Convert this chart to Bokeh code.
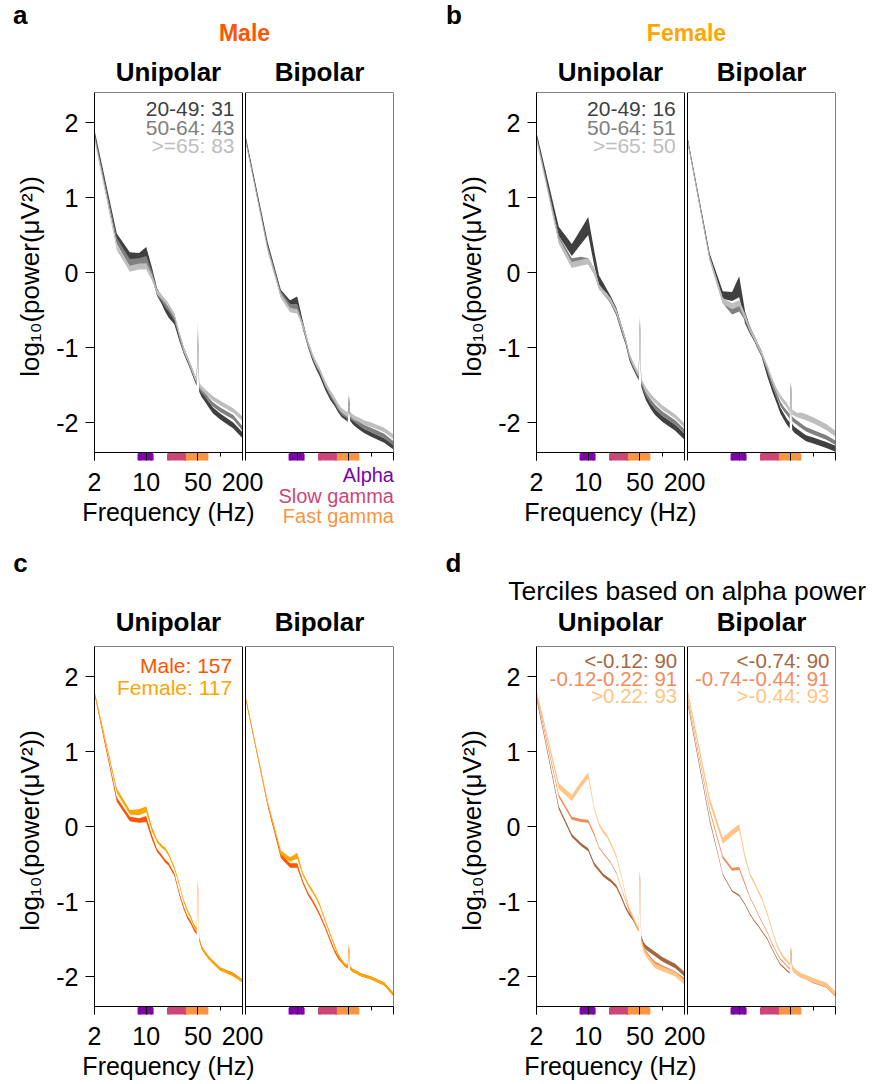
from bokeh.plotting import figure
from bokeh.models import Range1d, FixedTicker, Label, BoxAnnotation, CustomJSTickFormatter, Spacer, Div
from bokeh.layouts import column, row
from bokeh.core.properties import value
from bokeh.embed import file_html
from bokeh.resources import INLINE

# ---------------- data ----------------
FREQ = [2, 4, 6, 8, 10, 12, 14, 16, 18, 20, 24, 28, 32, 36, 40, 44, 48, 50, 52, 56, 60, 70, 80, 100, 150, 200]

BAND_NAMES = ["Alpha", "Slow gamma", "Fast gamma"]
BAND_LO = [8, 20, 36]
BAND_HI = [12, 34, 66]
BAND_COLORS = ["#7E03A8", "#CC4778", "#F89540"]

X_TICKS = [2, 10, 50, 200]
X_MINOR = [100]
Y_TICKS = [-2, -1, 0, 1, 2]

AGE_LABELS = ["20-49", "50-64", ">=65"]
AGE_COLORS = ["#404040", "#808080", "#BEBEBE"]
MALE_AGE_N = [31, 43, 83]
FEMALE_AGE_N = [16, 51, 50]

SEX_LABELS = ["Male", "Female"]
SEX_COLORS = ["#FF5500", "#FFA500"]
SEX_N = [157, 117]

TERC_UNI_LABELS = ["<-0.12", "-0.12-0.22", ">0.22"]
TERC_BIP_LABELS = ["<-0.74", "-0.74--0.44", ">-0.44"]
TERC_COLORS = ["#A5673F", "#F08C5C", "#FFC585"]
TERC_N = [90, 91, 93]

# panel a: male, by age
MALE_UNI_2049 = [1.86, 0.47, 0.21, 0.20, 0.27, 0.00, -0.26, -0.36, -0.46, -0.54, -0.64, -0.86, -1.04, -1.16, -1.27, -1.38, -1.47, -0.90, -1.55, -1.62, -1.66, -1.76, -1.84, -1.92, -2.04, -2.17]
MALE_UNI_5064 = [1.83, 0.42, 0.13, 0.14, 0.17, -0.04, -0.26, -0.34, -0.42, -0.48, -0.60, -0.84, -1.03, -1.15, -1.26, -1.37, -1.46, -0.80, -1.53, -1.58, -1.61, -1.70, -1.76, -1.83, -1.93, -2.08]
MALE_UNI_65 = [1.79, 0.33, 0.05, 0.08, 0.08, -0.07, -0.26, -0.32, -0.38, -0.44, -0.57, -0.82, -1.02, -1.14, -1.25, -1.36, -1.45, -0.70, -1.50, -1.54, -1.57, -1.63, -1.68, -1.74, -1.84, -1.95]
MALE_BIP_2049 = [1.80, 0.36, -0.27, -0.42, -0.38, -0.71, -0.96, -1.13, -1.25, -1.34, -1.53, -1.66, -1.75, -1.84, -1.90, -1.93, -1.96, -1.70, -1.95, -1.99, -2.02, -2.07, -2.11, -2.16, -2.24, -2.33]
MALE_BIP_5064 = [1.78, 0.33, -0.29, -0.46, -0.46, -0.72, -0.95, -1.11, -1.23, -1.31, -1.50, -1.63, -1.72, -1.81, -1.87, -1.90, -1.93, -1.70, -1.92, -1.95, -1.97, -2.02, -2.06, -2.10, -2.18, -2.28]
MALE_BIP_65 = [1.76, 0.30, -0.31, -0.50, -0.52, -0.72, -0.94, -1.10, -1.21, -1.29, -1.48, -1.60, -1.69, -1.78, -1.84, -1.87, -1.90, -1.66, -1.89, -1.92, -1.94, -1.97, -2.00, -2.03, -2.10, -2.19]
MALE_UNI_SEM_2049 = [0.04, 0.05, 0.06, 0.06, 0.07, 0.06, 0.05, 0.05, 0.06, 0.06, 0.05, 0.05, 0.04, 0.04, 0.04, 0.04, 0.04, 0.06, 0.04, 0.04, 0.04, 0.04, 0.04, 0.04, 0.04, 0.04]
MALE_UNI_SEM_5064 = [0.03, 0.04, 0.05, 0.05, 0.05, 0.05, 0.04, 0.04, 0.04, 0.04, 0.04, 0.04, 0.04, 0.03, 0.03, 0.03, 0.03, 0.06, 0.03, 0.03, 0.03, 0.03, 0.03, 0.03, 0.03, 0.03]
MALE_UNI_SEM_65 = [0.03, 0.03, 0.04, 0.04, 0.04, 0.04, 0.03, 0.03, 0.03, 0.03, 0.03, 0.03, 0.03, 0.03, 0.03, 0.03, 0.03, 0.06, 0.03, 0.03, 0.03, 0.03, 0.03, 0.03, 0.03, 0.03]
MALE_BIP_SEM_2049 = [0.03, 0.04, 0.04, 0.05, 0.06, 0.05, 0.04, 0.04, 0.04, 0.04, 0.04, 0.04, 0.03, 0.03, 0.03, 0.03, 0.03, 0.05, 0.03, 0.03, 0.03, 0.03, 0.03, 0.03, 0.03, 0.03]
MALE_BIP_SEM_5064 = [0.03, 0.03, 0.04, 0.04, 0.04, 0.04, 0.03, 0.03, 0.03, 0.03, 0.03, 0.03, 0.03, 0.03, 0.03, 0.03, 0.03, 0.05, 0.03, 0.03, 0.03, 0.03, 0.03, 0.03, 0.03, 0.03]
MALE_BIP_SEM_65 = [0.02, 0.03, 0.03, 0.03, 0.03, 0.03, 0.03, 0.03, 0.03, 0.03, 0.03, 0.03, 0.03, 0.03, 0.03, 0.03, 0.03, 0.05, 0.03, 0.03, 0.03, 0.03, 0.03, 0.03, 0.03, 0.03]

# panel b: female, by age
FEMALE_UNI_2049 = [1.83, 0.55, 0.30, 0.48, 0.62, 0.20, -0.10, -0.19, -0.28, -0.36, -0.52, -0.74, -0.92, -1.13, -1.24, -1.32, -1.40, -0.70, -1.48, -1.58, -1.66, -1.78, -1.86, -1.95, -2.07, -2.19]
FEMALE_UNI_5064 = [1.81, 0.45, 0.15, 0.17, 0.15, 0.02, -0.19, -0.26, -0.32, -0.38, -0.54, -0.74, -0.92, -1.12, -1.23, -1.31, -1.38, -0.66, -1.46, -1.55, -1.62, -1.72, -1.79, -1.88, -2.00, -2.12]
FEMALE_UNI_65 = [1.78, 0.42, 0.10, 0.13, 0.15, 0.02, -0.19, -0.26, -0.31, -0.37, -0.52, -0.72, -0.90, -1.10, -1.21, -1.29, -1.36, -0.62, -1.44, -1.50, -1.56, -1.65, -1.71, -1.80, -1.92, -2.04]
FEMALE_BIP_2049 = [1.78, 0.21, -0.30, -0.32, -0.19, -0.60, -0.77, -0.88, -0.99, -1.08, -1.35, -1.55, -1.70, -1.84, -1.92, -1.99, -2.04, -1.52, -2.06, -2.10, -2.12, -2.17, -2.21, -2.24, -2.30, -2.35]
FEMALE_BIP_5064 = [1.77, 0.19, -0.37, -0.52, -0.48, -0.60, -0.77, -0.88, -0.99, -1.08, -1.30, -1.49, -1.63, -1.75, -1.82, -1.87, -1.92, -1.52, -1.95, -1.98, -2.00, -2.05, -2.09, -2.13, -2.20, -2.27]
FEMALE_BIP_65 = [1.76, 0.18, -0.38, -0.45, -0.41, -0.59, -0.76, -0.87, -0.98, -1.07, -1.26, -1.44, -1.57, -1.66, -1.72, -1.77, -1.84, -1.52, -1.86, -1.88, -1.90, -1.91, -1.93, -1.97, -2.06, -2.15]
FEMALE_UNI_SEM_2049 = [0.04, 0.06, 0.08, 0.10, 0.12, 0.10, 0.06, 0.05, 0.05, 0.05, 0.05, 0.05, 0.04, 0.04, 0.04, 0.04, 0.04, 0.06, 0.04, 0.04, 0.04, 0.04, 0.04, 0.04, 0.04, 0.04]
FEMALE_UNI_SEM_5064 = [0.03, 0.04, 0.04, 0.04, 0.04, 0.04, 0.03, 0.03, 0.03, 0.03, 0.03, 0.03, 0.03, 0.03, 0.03, 0.03, 0.03, 0.06, 0.03, 0.03, 0.03, 0.03, 0.03, 0.03, 0.03, 0.03]
FEMALE_UNI_SEM_65 = [0.03, 0.04, 0.04, 0.04, 0.04, 0.04, 0.03, 0.03, 0.03, 0.03, 0.03, 0.03, 0.03, 0.03, 0.03, 0.03, 0.03, 0.06, 0.03, 0.03, 0.03, 0.03, 0.03, 0.03, 0.03, 0.03]
FEMALE_BIP_SEM_2049 = [0.03, 0.04, 0.05, 0.06, 0.14, 0.08, 0.05, 0.04, 0.04, 0.04, 0.04, 0.04, 0.04, 0.04, 0.04, 0.04, 0.04, 0.06, 0.04, 0.04, 0.04, 0.04, 0.04, 0.04, 0.04, 0.04]
FEMALE_BIP_SEM_5064 = [0.03, 0.03, 0.04, 0.04, 0.04, 0.04, 0.03, 0.03, 0.03, 0.03, 0.03, 0.03, 0.03, 0.03, 0.03, 0.03, 0.03, 0.05, 0.03, 0.03, 0.03, 0.03, 0.03, 0.03, 0.03, 0.03]
FEMALE_BIP_SEM_65 = [0.03, 0.03, 0.04, 0.04, 0.04, 0.04, 0.03, 0.03, 0.03, 0.03, 0.03, 0.03, 0.03, 0.03, 0.03, 0.03, 0.03, 0.05, 0.03, 0.03, 0.03, 0.04, 0.04, 0.04, 0.04, 0.04]

# panel c: male vs female
SEX_UNI_MALE = [1.78, 0.36, 0.10, 0.08, 0.10, -0.15, -0.32, -0.39, -0.46, -0.50, -0.64, -0.90, -1.08, -1.21, -1.28, -1.37, -1.42, -0.80, -1.50, -1.61, -1.66, -1.75, -1.81, -1.90, -1.97, -2.06]
SEX_UNI_FEMALE = [1.79, 0.48, 0.19, 0.19, 0.23, -0.04, -0.19, -0.26, -0.30, -0.37, -0.55, -0.77, -0.99, -1.12, -1.21, -1.32, -1.37, -0.75, -1.50, -1.61, -1.66, -1.75, -1.81, -1.90, -1.98, -2.06]
SEX_BIP_MALE = [1.72, 0.28, -0.39, -0.52, -0.52, -0.75, -0.90, -0.99, -1.08, -1.17, -1.35, -1.52, -1.66, -1.75, -1.80, -1.85, -1.87, -1.61, -1.89, -1.92, -1.93, -1.97, -1.99, -2.02, -2.10, -2.24]
SEX_BIP_FEMALE = [1.72, 0.32, -0.35, -0.44, -0.39, -0.64, -0.77, -0.86, -0.95, -1.04, -1.26, -1.44, -1.59, -1.72, -1.79, -1.84, -1.86, -1.61, -1.88, -1.92, -1.93, -1.97, -1.99, -2.02, -2.10, -2.24]
SEX_UNI_SEM_MALE = [0.02, 0.03, 0.03, 0.03, 0.04, 0.03, 0.02, 0.02, 0.02, 0.02, 0.02, 0.02, 0.02, 0.02, 0.02, 0.02, 0.02, 0.05, 0.02, 0.02, 0.02, 0.02, 0.02, 0.02, 0.02, 0.02]
SEX_UNI_SEM_FEMALE = [0.02, 0.03, 0.03, 0.04, 0.04, 0.03, 0.02, 0.02, 0.02, 0.02, 0.02, 0.02, 0.02, 0.02, 0.02, 0.02, 0.02, 0.05, 0.02, 0.02, 0.02, 0.02, 0.02, 0.02, 0.02, 0.02]
SEX_BIP_SEM_MALE = [0.02, 0.02, 0.03, 0.03, 0.03, 0.02, 0.02, 0.02, 0.02, 0.02, 0.02, 0.02, 0.02, 0.02, 0.02, 0.02, 0.02, 0.04, 0.02, 0.02, 0.02, 0.02, 0.02, 0.02, 0.02, 0.02]
SEX_BIP_SEM_FEMALE = [0.02, 0.02, 0.03, 0.03, 0.04, 0.02, 0.02, 0.02, 0.02, 0.02, 0.02, 0.02, 0.02, 0.02, 0.02, 0.02, 0.02, 0.04, 0.02, 0.02, 0.02, 0.02, 0.02, 0.02, 0.02, 0.02]

# panel d: terciles of alpha power
TERC_UNI_LOW = [1.72, 0.25, -0.12, -0.24, -0.31, -0.50, -0.58, -0.65, -0.69, -0.72, -0.80, -0.94, -1.08, -1.17, -1.23, -1.31, -1.38, -0.64, -1.48, -1.57, -1.61, -1.66, -1.70, -1.77, -1.86, -1.97]
TERC_UNI_MID = [1.76, 0.41, 0.11, 0.08, 0.07, -0.10, -0.28, -0.36, -0.42, -0.48, -0.62, -0.82, -0.99, -1.12, -1.21, -1.30, -1.38, -0.64, -1.50, -1.61, -1.67, -1.76, -1.82, -1.87, -1.95, -2.04]
TERC_UNI_HIGH = [1.80, 0.54, 0.38, 0.56, 0.68, 0.25, 0.03, -0.07, -0.13, -0.22, -0.40, -0.66, -0.92, -1.10, -1.20, -1.29, -1.38, -0.64, -1.53, -1.64, -1.70, -1.79, -1.86, -1.90, -1.97, -2.08]
TERC_BIP_LOW = [1.66, 0.08, -0.64, -0.86, -0.92, -1.04, -1.17, -1.26, -1.32, -1.39, -1.50, -1.64, -1.75, -1.84, -1.88, -1.92, -1.95, -1.64, -1.88, -1.92, -1.95, -1.99, -2.01, -2.06, -2.12, -2.24]
TERC_BIP_MID = [1.72, 0.21, -0.41, -0.57, -0.56, -0.77, -0.95, -1.06, -1.17, -1.26, -1.41, -1.57, -1.68, -1.77, -1.81, -1.86, -1.90, -1.64, -1.89, -1.93, -1.96, -2.00, -2.02, -2.07, -2.13, -2.25]
TERC_BIP_HIGH = [1.80, 0.34, -0.19, -0.08, -0.01, -0.41, -0.64, -0.75, -0.86, -0.95, -1.17, -1.39, -1.57, -1.68, -1.75, -1.79, -1.84, -1.64, -1.88, -1.92, -1.95, -1.99, -2.01, -2.05, -2.11, -2.23]
TERC_UNI_SEM_LOW = [0.02, 0.02, 0.02, 0.02, 0.02, 0.02, 0.02, 0.02, 0.02, 0.02, 0.02, 0.02, 0.02, 0.02, 0.02, 0.02, 0.02, 0.05, 0.03, 0.03, 0.03, 0.03, 0.03, 0.03, 0.03, 0.03]
TERC_UNI_SEM_MID = [0.02, 0.02, 0.02, 0.02, 0.02, 0.02, 0.01, 0.01, 0.01, 0.01, 0.01, 0.01, 0.01, 0.02, 0.02, 0.02, 0.02, 0.05, 0.02, 0.02, 0.02, 0.02, 0.02, 0.02, 0.02, 0.02]
TERC_UNI_SEM_HIGH = [0.03, 0.04, 0.04, 0.04, 0.04, 0.02, 0.02, 0.02, 0.02, 0.02, 0.02, 0.02, 0.02, 0.02, 0.02, 0.02, 0.02, 0.05, 0.03, 0.03, 0.03, 0.03, 0.03, 0.03, 0.03, 0.03]
TERC_BIP_SEM_LOW = [0.02, 0.02, 0.01, 0.01, 0.01, 0.01, 0.01, 0.01, 0.01, 0.01, 0.01, 0.01, 0.01, 0.01, 0.01, 0.01, 0.01, 0.04, 0.02, 0.02, 0.02, 0.02, 0.02, 0.02, 0.02, 0.02]
TERC_BIP_SEM_MID = [0.02, 0.02, 0.02, 0.02, 0.02, 0.02, 0.01, 0.01, 0.01, 0.01, 0.01, 0.01, 0.01, 0.01, 0.01, 0.01, 0.01, 0.04, 0.02, 0.02, 0.02, 0.02, 0.02, 0.02, 0.02, 0.02]
TERC_BIP_SEM_HIGH = [0.04, 0.04, 0.04, 0.04, 0.04, 0.03, 0.02, 0.02, 0.02, 0.02, 0.02, 0.02, 0.02, 0.02, 0.02, 0.02, 0.02, 0.04, 0.03, 0.03, 0.03, 0.03, 0.03, 0.03, 0.03, 0.03]

# ---------------- styling / geometry ----------------
FONT = "Liberation Sans"
Y_LO, Y_HI = -2.4, 2.4
PX_PER_UNIT = 75.0
BAND_PX = 8
Y_BOT = Y_LO - BAND_PX / PX_PER_UNIT
DEC_PX = 74.0            # pixels per decade of frequency
BOX_PX = 148             # width of one sub-plot box
GAP_PX = 3               # gap between the Unipolar and the Bipolar box
K = 10 ** ((BOX_PX + GAP_PX) / DEC_PX)   # log-shift that places the Bipolar box
FRAME_W = 2 * BOX_PX + GAP_PX
FRAME_H = 368

LABEL_FMT = CustomJSTickFormatter(code="return tick.toString();")
EMPTY_FMT = CustomJSTickFormatter(code="return '';")


def make_pair(width, bl):
    """One figure holding the Unipolar and the Bipolar box side by side."""
    br = width - bl - FRAME_W
    p = figure(width=width, height=FRAME_H + 6, x_axis_type="log",
               x_range=Range1d(2, 200 * K), y_range=Range1d(Y_BOT, Y_HI),
               output_backend="svg", toolbar_location=None,
               min_border_left=bl, min_border_right=br,
               min_border_top=4, min_border_bottom=2)
    p.grid.visible = False
    p.outline_line_color = None
    p.background_fill_color = "white"
    p.border_fill_color = "white"

    xa = p.xaxis[0]
    xa.ticker = FixedTicker(ticks=X_TICKS + [t * K for t in X_TICKS],
                            minor_ticks=X_MINOR + [t * K for t in X_MINOR])
    xa.formatter = EMPTY_FMT
    xa.major_label_text_font_size = "0px"
    xa.major_label_standoff = 0
    xa.axis_line_color = None
    xa.major_tick_in = BAND_PX
    xa.major_tick_out = 0
    xa.minor_tick_in = BAND_PX
    xa.minor_tick_out = -4
    xa.major_tick_line_color = "black"
    xa.minor_tick_line_color = "black"

    ya = p.yaxis[0]
    ya.ticker = FixedTicker(ticks=Y_TICKS)
    ya.formatter = LABEL_FMT
    ya.major_tick_out = 9
    ya.major_tick_in = 0
    ya.minor_tick_out = 0
    ya.minor_tick_in = 0
    ya.axis_line_color = "black"
    ya.major_label_standoff = 7
    ya.major_label_text_font = FONT
    ya.major_label_text_font_size = "25px"
    ya.major_label_text_color = "black"
    ya.axis_label = "log₁₀(power(μV²))"
    ya.axis_label_standoff = 8
    ya.axis_label_text_font = FONT
    ya.axis_label_text_font_size = "26px"
    ya.axis_label_text_font_style = "normal"
    ya.axis_label_text_color = "black"

    for shift in (1.0, K):
        p.quad(left=[b * shift for b in BAND_LO], right=[b * shift for b in BAND_HI],
               bottom=Y_BOT - 0.05, top=Y_LO - 0.02,
               fill_color=BAND_COLORS, line_color=BAND_COLORS, line_width=3)
    return p


def add_boxes(p):
    for shift in (1.0, K):
        p.add_layout(BoxAnnotation(left=2 * shift, right=200 * shift, bottom=Y_LO, top=Y_HI,
                                   fill_color=None, fill_alpha=0,
                                   line_color="black", line_alpha=1.0, line_width=1))


def add_series(p, means, sems, colors, shift=1.0):
    x = [f * shift for f in FREQ]
    for m, s, c in zip(means, sems, colors):
        lo = [a - b for a, b in zip(m, s)]
        hi = [a + b for a, b in zip(m, s)]
        p.varea(x=x, y1=lo, y2=hi, fill_color=c, fill_alpha=1.0)


def add_legend(p, texts, colors, x, y0, dy, size):
    for i, (t, c) in enumerate(zip(texts, colors)):
        p.add_layout(Label(x=x, y=y0 - i * dy, x_units="screen", y_units="screen",
                           text=t, text_align="right", text_baseline="middle",
                           text_font=FONT, text_font_size=size, text_color=c))


def make_axis_strip(width, height, bl):
    """Tick labels and 'Frequency (Hz)' under the Unipolar box."""
    s = figure(width=width, height=height, x_axis_type="log",
               x_range=Range1d(2, 200), y_range=Range1d(0, 1),
               output_backend="svg", toolbar_location=None,
               min_border_left=bl, min_border_right=width - bl - BOX_PX,
               min_border_top=0, min_border_bottom=height - 2,
               y_axis_location=None)
    s.grid.visible = False
    s.outline_line_color = None
    xa = s.xaxis[0]
    xa.ticker = FixedTicker(ticks=X_TICKS)
    xa.formatter = LABEL_FMT
    xa.axis_line_color = None
    xa.major_tick_in = 0
    xa.major_tick_out = 0
    xa.minor_tick_in = 0
    xa.minor_tick_out = 0
    xa.major_label_standoff = 8
    xa.major_label_text_font = FONT
    xa.major_label_text_font_size = "25px"
    xa.major_label_text_color = "black"
    xa.axis_label = "Frequency (Hz)"
    xa.axis_label_standoff = 4
    xa.axis_label_text_font = FONT
    xa.axis_label_text_font_size = "25px"
    xa.axis_label_text_font_style = "normal"
    xa.axis_label_text_color = "black"
    return s


def make_text_strip(x0, x1, y0, y1, items):
    """A blank strip in page pixel coordinates; each text is centred on (x, y)."""
    s = figure(width=x1 - x0, height=y1 - y0, x_range=Range1d(x0, x1), y_range=Range1d(-y1, -y0),
               output_backend="svg", toolbar_location=None, min_border=0,
               x_axis_location=None, y_axis_location=None)
    s.grid.visible = False
    s.outline_line_color = None
    s.background_fill_color = "white"
    for (t, x, y, size, style, color) in items:
        s.text(x=[x], y=[-y], text=[t], text_align=value("center"), text_baseline=value("middle"),
               text_font=value(FONT), text_font_size=value(size),
               text_font_style=value(style), text_color=color)
    return s


# ---- row 1: panels a and b ----
fig_a = make_pair(436, 94)
add_series(fig_a, [MALE_UNI_2049, MALE_UNI_5064, MALE_UNI_65],
           [MALE_UNI_SEM_2049, MALE_UNI_SEM_5064, MALE_UNI_SEM_65], AGE_COLORS)
add_series(fig_a, [MALE_BIP_2049, MALE_BIP_5064, MALE_BIP_65],
           [MALE_BIP_SEM_2049, MALE_BIP_SEM_5064, MALE_BIP_SEM_65], AGE_COLORS, K)
add_boxes(fig_a)
add_legend(fig_a, [f"{l}: {n}" for l, n in zip(AGE_LABELS, MALE_AGE_N)], AGE_COLORS,
           140, 351.7, 18.4, "21px")

fig_b = make_pair(436, 100)
add_series(fig_b, [FEMALE_UNI_2049, FEMALE_UNI_5064, FEMALE_UNI_65],
           [FEMALE_UNI_SEM_2049, FEMALE_UNI_SEM_5064, FEMALE_UNI_SEM_65], AGE_COLORS)
add_series(fig_b, [FEMALE_BIP_2049, FEMALE_BIP_5064, FEMALE_BIP_65],
           [FEMALE_BIP_SEM_2049, FEMALE_BIP_SEM_5064, FEMALE_BIP_SEM_65], AGE_COLORS, K)
add_boxes(fig_b)
add_legend(fig_b, [f"{l}: {n}" for l, n in zip(AGE_LABELS, FEMALE_AGE_N)], AGE_COLORS,
           139.3, 351.7, 18.4, "21px")

# ---- row 2: panels c and d ----
fig_c = make_pair(436, 94)
add_series(fig_c, [SEX_UNI_MALE, SEX_UNI_FEMALE], [SEX_UNI_SEM_MALE, SEX_UNI_SEM_FEMALE], SEX_COLORS)
add_series(fig_c, [SEX_BIP_MALE, SEX_BIP_FEMALE], [SEX_BIP_SEM_MALE, SEX_BIP_SEM_FEMALE], SEX_COLORS, K)
add_boxes(fig_c)
add_legend(fig_c, [f"{l}: {n}" for l, n in zip(SEX_LABELS, SEX_N)], SEX_COLORS,
           137.7, 349, 22.3, "21px")

fig_d = make_pair(436, 100)
add_series(fig_d, [TERC_UNI_LOW, TERC_UNI_MID, TERC_UNI_HIGH],
           [TERC_UNI_SEM_LOW, TERC_UNI_SEM_MID, TERC_UNI_SEM_HIGH], TERC_COLORS)
add_series(fig_d, [TERC_BIP_LOW, TERC_BIP_MID, TERC_BIP_HIGH],
           [TERC_BIP_SEM_LOW, TERC_BIP_SEM_MID, TERC_BIP_SEM_HIGH], TERC_COLORS, K)
add_boxes(fig_d)
add_legend(fig_d, [f"{l}: {n}" for l, n in zip(TERC_UNI_LABELS, TERC_N)], TERC_COLORS,
           140.7, 354, 17.5, "20.5px")
add_legend(fig_d, [f"{l}: {n}" for l, n in zip(TERC_BIP_LABELS, TERC_N)], TERC_COLORS,
           293, 354, 17.5, "20.5px")

# ---- header strips (page coordinates, text centres) ----
head1 = make_text_strip(0, 872, 0, 88, [
    ("a", 19.7, 14.3, "26px", "bold", "black"),
    ("Male", 244, 32, "23px", "bold", SEX_COLORS[0]),
    ("Unipolar", 168, 71, "26px", "bold", "black"),
    ("Bipolar", 319, 71, "26px", "bold", "black"),
    ("b", 453.5, 14.3, "26px", "bold", "black"),
    ("Female", 686, 32, "23px", "bold", SEX_COLORS[1]),
    ("Unipolar", 610, 71, "26px", "bold", "black"),
    ("Bipolar", 761, 71, "26px", "bold", "black"),
])
head2 = make_text_strip(0, 872, 538, 642, [
    ("c", 20, 562.7, "26px", "bold", "black"),
    ("d", 453, 562.7, "26px", "bold", "black"),
    ("Terciles based on alpha power", 686.7, 590.8, "26.5px", "normal", "black"),
    ("Unipolar", 168, 621.7, "26px", "bold", "black"),
    ("Bipolar", 319, 621.7, "26px", "bold", "black"),
    ("Unipolar", 610, 621.7, "26px", "bold", "black"),
    ("Bipolar", 761, 621.7, "26px", "bold", "black"),
])

# ---- bottom strips ----
axis_a = make_axis_strip(268, 76, 94)
legend_lines = "".join(
    f'<div style="height:20.5px;line-height:20.5px;color:{c};">{t}</div>'
    for t, c in zip(BAND_NAMES, BAND_COLORS))
band_legend = Div(
    text=(f'<div style="margin:0;padding:3px 0 0 0;width:126px;box-sizing:border-box;'
          f'text-align:right;font-family:\'{FONT}\';font-size:20px;white-space:nowrap;">'
          f'{legend_lines}</div>'),
    width=168, height=76, margin=(0, 0, 0, 0))
axis_b = make_axis_strip(274, 76, 100)
axis_c = make_axis_strip(268, 67, 94)
axis_d = make_axis_strip(274, 67, 100)

layout = column(
    head1,
    row(fig_a, fig_b),
    row(axis_a, band_legend, axis_b, Spacer(width=162, height=76)),
    head2,
    row(fig_c, fig_d),
    row(axis_c, Spacer(width=168, height=67), axis_d, Spacer(width=162, height=67)),
)

open("out.html", "w").write(file_html(layout, INLINE))
